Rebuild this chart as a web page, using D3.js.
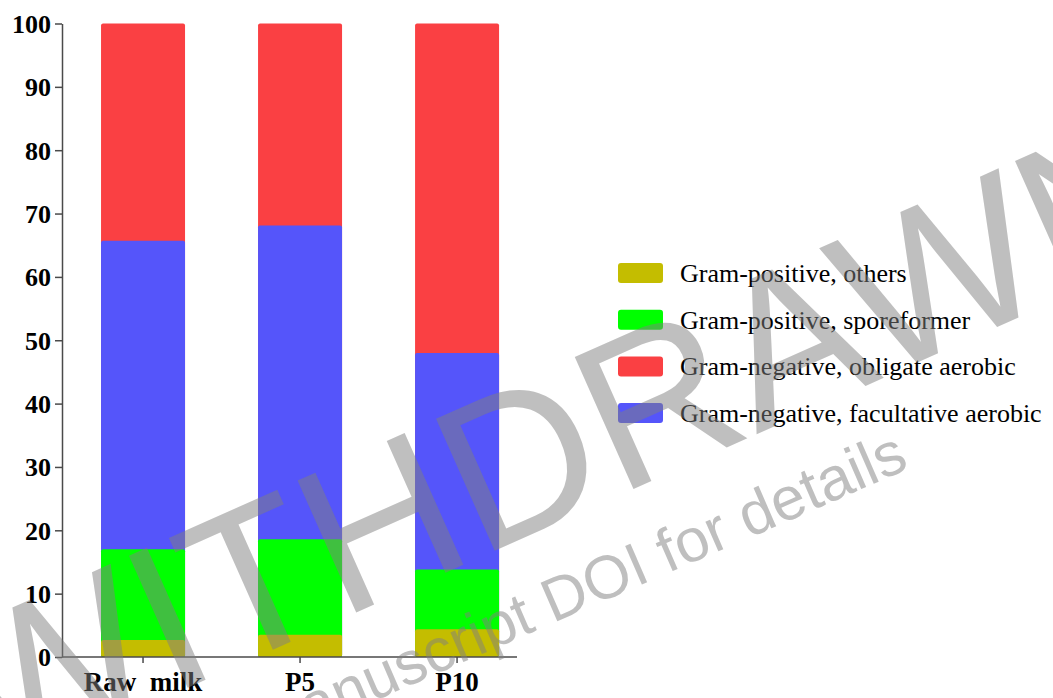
<!DOCTYPE html>
<html>
<head>
<meta charset="utf-8">
<script src="https://cdn.jsdelivr.net/npm/d3@7"></script>
<style>
  html, body { margin: 0; padding: 0; background: #fff; }
  svg { display: block; }
</style>
</head>
<body>
<svg id="chart" width="1053" height="698"></svg>
<script>
// Samples along the processing line
const categories = ["Raw  milk", "P5", "P10"];

// Bacterial groups, bottom of the stack first
const groups = [
  "Gram-positive, others",
  "Gram-positive, sporeformer",
  "Gram-negative, facultative aerobic",
  "Gram-negative, obligate aerobic"
];

// Relative abundance (%) of each group per sample
const gramPosOthers      = [2.7, 3.5, 4.4];
const gramPosSporeformer = [14.3, 15.1, 9.4];
const gramNegFacultative = [48.7, 49.5, 34.2];
const gramNegObligate    = [34.3, 31.9, 52.0];

// Legend order as printed beside the plot
const legendOrder = [
  "Gram-positive, others",
  "Gram-positive, sporeformer",
  "Gram-negative, obligate aerobic",
  "Gram-negative, facultative aerobic"
];

const yTicks = [0, 10, 20, 30, 40, 50, 60, 70, 80, 90, 100];

const colors = {
  "Gram-positive, others": "#c4bd00",
  "Gram-positive, sporeformer": "#00ff00",
  "Gram-negative, facultative aerobic": "#5555fa",
  "Gram-negative, obligate aerobic": "#fa4043"
};

const rows = categories.map((c, i) => ({
  sample: c,
  "Gram-positive, others": gramPosOthers[i],
  "Gram-positive, sporeformer": gramPosSporeformer[i],
  "Gram-negative, facultative aerobic": gramNegFacultative[i],
  "Gram-negative, obligate aerobic": gramNegObligate[i]
}));

const svg = d3.select("#chart");

const plot = { left: 62, right: 517, top: 23.5, bottom: 657 };

const x = d3.scaleBand()
  .domain(categories)
  .range([55.5, 544.6])
  .paddingInner(0.465)
  .paddingOuter(0.29);

const y = d3.scaleLinear().domain([0, 100]).range([plot.bottom, plot.top]);

const stacked = d3.stack().keys(groups)(rows);

// Stacked bars: upper segments first so the lower ones overlay them
const layers = svg.append("g").attr("class", "bars");
stacked.slice().reverse().forEach(layer => {
  layers.selectAll(null)
    .data(layer)
    .join("rect")
    .attr("x", d => x(d.data.sample))
    .attr("width", x.bandwidth())
    .attr("y", d => y(d[1]))
    .attr("height", d => y(0) - y(d[1]))
    .attr("rx", 2)
    .attr("fill", colors[layer.key]);
});

// Axes
const axisColor = "#4a4a4a";

const yAxis = svg.append("g")
  .attr("transform", `translate(${plot.left},0)`)
  .call(d3.axisLeft(y).tickValues(yTicks).tickSize(7).tickSizeOuter(0).tickPadding(4));

const xAxis = svg.append("g")
  .attr("transform", `translate(0,${plot.bottom})`)
  .call(d3.axisBottom(x).tickSize(6).tickSizeOuter(0).tickPadding(10));

xAxis.select(".domain").attr("d", `M${plot.left},0H${plot.right}`);

[yAxis, xAxis].forEach(g => {
  g.select(".domain").attr("stroke", axisColor).attr("stroke-width", 1.5);
  g.selectAll(".tick line").attr("stroke", axisColor).attr("stroke-width", 1.5);
  g.selectAll(".tick text")
    .attr("fill", "#000")
    .style("font-family", "'Liberation Serif', 'Times New Roman', serif")
    .style("font-weight", "bold")
    .style("font-size", "26px");
});

yAxis.selectAll(".tick text").attr("dy", "0.34em");
xAxis.selectAll(".tick text")
  .style("white-space", "pre")
  .style("font-size", "27px")
  .attr("dy", "0.68em");

// Legend
const legend = svg.append("g").attr("transform", "translate(618,263)");
const item = legend.selectAll("g")
  .data(legendOrder)
  .join("g")
  .attr("transform", (d, i) => `translate(0,${i * 46.7})`);

item.append("rect")
  .attr("width", 45)
  .attr("height", 20)
  .attr("rx", 3)
  .attr("fill", d => colors[d]);

item.append("text")
  .attr("x", 62)
  .attr("y", 19)
  .attr("fill", "#000")
  .style("font-family", "'Liberation Serif', 'Times New Roman', serif")
  .style("font-size", "26px")
  .text(d => d);

// Withdrawal stamp across the figure
const stamp = svg.append("g")
  .attr("fill", "#808080")
  .attr("fill-opacity", 0.5)
  .style("font-family", "'Liberation Sans', Arial, sans-serif");

stamp.append("text")
  .attr("transform", "translate(-11,776) rotate(-24)")
  .style("font-size", "210px")
  .text("WITHDRAWN");

stamp.append("text")
  .attr("transform", "translate(158,795) rotate(-23.5)")
  .style("font-size", "61px")
  .text("see manuscript DOI for details");
</script>
</body>
</html>
